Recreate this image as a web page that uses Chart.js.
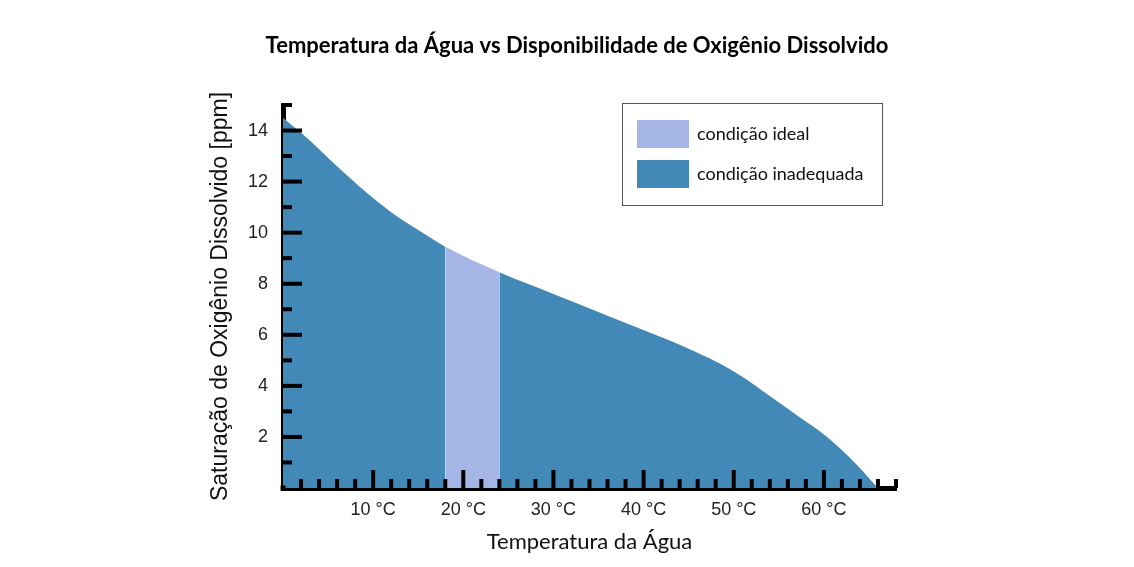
<!DOCTYPE html>
<html>
<head>
<meta charset="utf-8">
<script src="https://cdn.jsdelivr.net/npm/chart.js@4.4.1/dist/chart.umd.min.js"></script>
<style>
  html, body { margin: 0; padding: 0; background: #fff; }
  #wrap { width: 1134px; height: 567px; }
</style>
</head>
<body>
<div id="wrap"><canvas id="chart"></canvas></div>
<script>
// water temperature (°C) vs dissolved oxygen saturation (ppm)
const temperatures = [0, 3, 6, 9, 12, 15, 18, 24, 30, 36, 42, 45, 48, 51, 54, 57, 60, 63, 66];
const oxygenPpm = [14.5, 13.6, 12.6, 11.65, 10.8, 10.1, 9.45, 8.45, 7.6, 6.75, 5.9, 5.45, 4.95, 4.35, 3.6, 2.85, 2.1, 1.15, 0];
const idealRange = [18, 24];
const legendLabels = ["condição ideal", "condição inadequada"];
const yTickLabels = [2, 4, 6, 8, 10, 12, 14];
const xTickLabels = [10, 20, 30, 40, 50, 60];

const idealColor = "#a5b5e6";
const poorColor = "#4289b8";
const legendColors = [idealColor, poorColor];

const points = temperatures.map((t, i) => ({ x: t, y: oxygenPpm[i] }));

// short tick marks pointing into the plot
const insideTicks = {
  id: "insideTicks",
  afterDraw(chart) {
    const { ctx, chartArea } = chart;
    const x = chart.scales.x;
    const y = chart.scales.y;
    ctx.save();
    ctx.strokeStyle = "#000";
    ctx.lineWidth = 4;
    y.ticks.forEach((t) => {
      if (t.value === 0) return;
      const py = y.getPixelForValue(t.value);
      const len = t.value % 2 === 0 ? 19 : 9;
      ctx.beginPath();
      ctx.moveTo(chartArea.left, py);
      ctx.lineTo(chartArea.left + len, py);
      ctx.stroke();
    });
    x.ticks.forEach((t) => {
      if (t.value === 0) return;
      const px = x.getPixelForValue(t.value);
      const len = t.value % 10 === 0 ? 18 : 9;
      ctx.beginPath();
      ctx.moveTo(px, chartArea.bottom);
      ctx.lineTo(px, chartArea.bottom - len);
      ctx.stroke();
    });
    // square off the corner
    ctx.fillStyle = "#000";
    ctx.fillRect(chartArea.left - 2.5, chartArea.bottom - 2.5, 5, 5);
    ctx.restore();
  },
};

// boxed legend inside the plot area
const boxLegend = {
  id: "boxLegend",
  afterDraw(chart) {
    const { ctx, chartArea } = chart;
    const left = chartArea.right - 274;
    const top = chartArea.top - 2;
    ctx.save();
    ctx.strokeStyle = "#555";
    ctx.lineWidth = 1;
    ctx.strokeRect(left + 0.5, top + 0.5, 260, 102);
    ctx.font = "18px Lato";
    ctx.textBaseline = "middle";
    legendLabels.forEach((label, i) => {
      const rowY = top + 17 + i * 40;
      ctx.fillStyle = legendColors[i];
      ctx.fillRect(left + 15, rowY, 52, 28);
      ctx.fillStyle = "#111";
      ctx.fillText(label, left + 75, rowY + 14);
    });
    ctx.restore();
  },
};

new Chart(document.getElementById("chart"), {
  type: "line",
  data: {
    datasets: [
      {
        label: "oxigênio dissolvido",
        data: points,
        fill: "origin",
        backgroundColor: poorColor,
        borderWidth: 0,
        borderColor: "rgba(0,0,0,0)",
        pointRadius: 0,
        cubicInterpolationMode: "monotone",
        segment: {
          backgroundColor: (c) =>
            c.p0.parsed.x >= idealRange[0] && c.p1.parsed.x <= idealRange[1]
              ? idealColor
              : poorColor,
        },
      },
    ],
  },
  plugins: [insideTicks, boxLegend],
  options: {
    responsive: true,
    maintainAspectRatio: false,
    animation: false,
    layout: { padding: { left: 200, right: 180, top: 0, bottom: 0 } },
    plugins: {
      legend: { display: false },
      tooltip: { enabled: false },
      title: {
        display: true,
        text: "Temperatura da Água vs Disponibilidade de Oxigênio Dissolvido",
        color: "#000",
        font: { family: "Lato", size: 22, weight: "bold" },
        padding: { top: 33, bottom: 45.6 },
      },
    },
    scales: {
      x: {
        type: "linear",
        min: 0,
        max: 68,
        z: 1,
        afterFit: (s) => { s.height = 79; },
        grid: { display: false, drawTicks: false },
        border: { display: true, color: "#000", width: 5 },
        ticks: {
          stepSize: 2,
          autoSkip: false,
          maxRotation: 0,
          padding: 11,
          color: "#222",
          font: { family: "Liberation Sans", size: 18 },
          callback: (v) => (xTickLabels.includes(v) ? v + " °C" : ""),
        },
        title: {
          display: true,
          text: "Temperatura da Água",
          color: "#111",
          font: { family: "Lato", size: 22 },
          padding: { bottom: 12 },
        },
      },
      y: {
        min: 0,
        max: 15,
        z: 1,
        afterFit: (s) => { s.width = 83; },
        grid: { display: false, drawTicks: false },
        border: { display: true, color: "#000", width: 5 },
        ticks: {
          stepSize: 1,
          autoSkip: false,
          padding: 15,
          color: "#222",
          font: { family: "Liberation Sans", size: 18 },
          callback: (v) => (yTickLabels.includes(v) ? String(v) : ""),
        },
        title: {
          display: true,
          text: "Saturação de Oxigênio Dissolvido [ppm]",
          color: "#111",
          font: { family: "Liberation Sans", size: 23 },
          padding: { top: 7 },
        },
      },
      yRight: {
        position: "right",
        display: true,
        afterFit: (s) => { s.width = 58; },
        grid: { display: false, drawTicks: false },
        border: { display: false },
        ticks: { display: false },
      },
    },
  },
});
</script>
</body>
</html>
